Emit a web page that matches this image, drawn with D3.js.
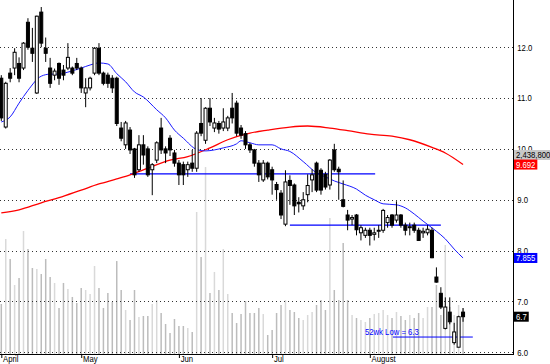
<!DOCTYPE html>
<html>
<head>
<meta charset="utf-8">
<script src="https://cdn.jsdelivr.net/npm/d3@7"></script>
<style>
  body { margin: 0; background: #fff; }
  svg { display: block; }
  text { font-family: "Liberation Sans", Arial, sans-serif; font-size: 9px; }
</style>
</head>
<body>
<script>
// daily bars, one entry per trading day (April .. end of August)
const opens = [11.39,10.43,11.49,11.59,11.68,11.59,12.49,11.98,11.10,12.69,11.98,11.59,11.45,11.68,11.55,11.59,11.59,11.68,11.59,11.10,
  11.20,11.49,11.98,11.49,11.45,11.39,11.39,10.41,10.08,10.37,10.00,9.59,10.08,10.00,9.59,9.78,10.41,10.00,10.21,9.92,
  9.72,9.69,9.59,9.72,9.62,10.50,10.17,10.80,10.41,10.50,10.41,10.41,10.80,10.90,10.41,10.30,10.08,9.98,9.72,9.39,
  9.72,9.59,9.30,9.13,8.52,9.38,9.29,8.95,8.88,9.10,9.39,9.72,9.58,9.50,9.29,9.98,9.60,9.00,8.70,8.62,
  8.70,8.35,8.30,8.40,8.32,8.38,8.40,8.55,8.70,8.60,8.70,8.50,8.45,8.50,8.40,8.35,8.35,8.40,7.48,7.16,
  6.47,6.79,6.19,6.10,6.79];
const highs = [11.45,11.32,11.59,11.98,11.80,12.10,12.57,12.38,12.62,12.79,12.19,11.79,11.58,11.70,11.65,12.08,11.62,11.79,11.62,11.39,
  11.42,12.00,12.08,11.52,11.50,11.45,11.42,10.53,10.55,10.43,10.02,10.27,10.27,10.05,9.72,10.15,10.61,10.05,10.27,9.98,
  9.78,9.75,9.75,9.98,10.35,11.00,10.82,11.00,10.61,10.55,10.80,10.65,11.10,10.95,10.47,10.35,10.12,10.00,9.78,9.78,
  9.75,9.65,9.35,9.19,9.58,9.48,9.32,9.05,9.15,9.50,9.60,9.75,9.62,9.55,9.80,10.10,9.65,9.38,8.80,8.70,
  8.72,8.50,8.45,8.45,8.45,8.50,8.82,8.70,8.72,8.97,8.72,8.55,8.55,8.55,8.45,8.45,8.50,8.45,7.67,7.28,
  7.08,7.08,6.58,6.72,6.87];
const lows = [10.55,10.40,11.31,11.45,11.31,11.55,11.95,11.71,11.08,12.00,11.71,11.20,11.35,11.26,11.35,11.55,11.45,11.55,11.10,10.82,
  11.15,11.45,11.45,11.25,11.20,11.10,10.45,10.15,10.00,9.90,9.43,9.55,9.69,9.45,9.09,9.72,9.90,9.72,9.86,9.65,
  9.29,9.29,9.45,9.55,9.55,10.25,10.10,10.45,10.33,10.30,10.35,10.35,10.50,10.25,10.20,10.00,9.92,9.65,9.35,9.35,
  9.40,9.10,9.00,8.62,8.48,8.90,8.70,8.75,8.80,8.95,9.15,9.15,9.10,9.20,9.20,9.55,9.00,8.85,8.40,8.50,
  8.30,8.20,8.25,8.10,8.20,8.25,8.35,8.45,8.45,8.55,8.45,8.30,8.30,8.35,8.20,8.25,8.30,7.85,7.37,6.85,
  6.45,6.55,6.15,6.10,6.60];
const closes = [10.61,11.29,11.39,11.90,11.39,12.08,12.00,11.88,12.61,12.08,11.88,11.29,11.53,11.39,11.45,11.80,11.49,11.59,11.20,11.20,
  11.39,11.98,11.49,11.29,11.29,11.20,10.50,10.21,10.51,9.98,9.49,10.08,9.88,9.49,9.69,10.12,9.98,9.92,9.98,9.72,
  9.49,9.49,9.69,9.62,10.31,10.31,10.80,10.53,10.51,10.39,10.53,10.61,10.61,10.31,10.27,10.08,9.98,9.72,9.49,9.72,
  9.45,9.39,9.20,8.70,9.35,9.28,8.88,8.92,9.00,9.28,9.49,9.19,9.19,9.25,9.78,9.59,9.55,8.87,8.60,8.65,
  8.41,8.45,8.40,8.30,8.35,8.40,8.79,8.65,8.50,8.70,8.50,8.40,8.47,8.40,8.20,8.38,8.42,7.86,7.38,6.89,
  6.89,6.60,6.40,6.70,6.70];
const volumes = [597000,1400000,1153000,832000,918000,1499000,1277000,1042000,1030000,968000,1153000,931000,857000,548000,857000,782000,684000,609000,795000,770000,
  721000,1067000,795000,548000,733000,622000,1128000,770000,523000,399000,770000,436000,449000,449000,597000,646000,486000,350000,239000,412000,
  325000,325000,300000,251000,1734000,1178000,2290000,733000,993000,770000,1277000,721000,486000,362000,473000,634000,486000,486000,548000,473000,
  214000,276000,486000,585000,646000,523000,498000,424000,399000,461000,498000,585000,646000,523000,1660000,770000,646000,1351000,646000,461000,
  424000,399000,375000,424000,473000,486000,523000,461000,424000,498000,449000,399000,461000,424000,486000,424000,560000,560000,832000,461000,
  1326000,560000,461000,585000,548000];
const volScaleMax = 2438800;

// moving averages at these days
const maShortDays = [0,2,4,6,9,11,13,15,18,20,22,24,26,28,30,32,35,37,39,41,44,46,48,50,53,54,56,58,61,63,65,68,71,73,75,77,80,82,84,86,89,91,93,95,98,100,102,104];
const maShortVals = [10.53,10.63,10.90,11.15,11.43,11.47,11.47,11.51,11.59,11.65,11.69,11.67,11.48,11.32,11.12,11.02,10.77,10.61,10.37,10.21,9.99,9.96,9.98,10.02,10.10,10.16,10.12,10.08,10.08,10.00,9.95,9.75,9.53,9.45,9.37,9.31,9.21,9.09,9.00,8.92,8.90,8.84,8.72,8.58,8.38,8.23,8.03,7.855];
const maLongDays = [0,4,9,13,18,22,26,29,33,38,42,47,51,56,60,65,69,74,78,83,88,92,97,100,104];
const maLongVals = [8.74,8.80,8.94,9.04,9.19,9.31,9.41,9.49,9.62,9.78,9.85,10.02,10.18,10.31,10.37,10.43,10.45,10.41,10.36,10.29,10.25,10.18,10.03,9.92,9.692];

// horizontal trend lines (price level, first day, last day)
const levelValues = [9.51, 8.50];
const levelStart = [29, 65];
const levelEnd = [84.2, 99];
const lowValue = 6.3;
const lowStart = 88.2;
const lowEnd = 106.2;

const priceTicks = [6, 7, 8, 9, 10, 11, 12];
const monthTicks = [0, 18, 40, 61, 83];
const monthLabels = ["April", "May", "Jun", "Jul", "August"];

const width = 550, height = 364;
const plotRight = 513, axisY = 354;
const SX = 0.86; // squeeze text to look like the narrow chart font
const N = closes.length;

const x = d3.scaleLinear().domain([0, N - 1]).range([1.3, 1.3 + 4.44 * (N - 1)]);
const y = d3.scaleLinear().domain([6, 12]).range([352.3, 47.2]);
const yVol = d3.scaleLinear().domain([0, volScaleMax]).range([352.3, 155]);

const svg = d3.select("body").append("svg")
    .attr("width", width)
    .attr("height", height);

svg.append("clipPath").attr("id", "plot")
    .append("rect")
    .attr("x", 0).attr("y", 0)
    .attr("width", plotRight).attr("height", axisY);

const plot = svg.append("g").attr("clip-path", "url(#plot)");

// volume
plot.selectAll("line.vol")
    .data(volumes)
    .enter()
    .append("line")
    .attr("class", "vol")
    .attr("x1", (d, i) => x(i))
    .attr("x2", (d, i) => x(i))
    .attr("y1", axisY)
    .attr("y2", d => yVol(d))
    .attr("stroke", (d, i) => closes[i] >= opens[i] ? "#d9d9d9" : "#bcbcbc")
    .attr("stroke-width", 1.5);

// dotted grid
plot.selectAll("line.grid")
    .data(priceTicks)
    .enter()
    .append("line")
    .attr("class", "grid")
    .attr("x1", 0)
    .attr("x2", plotRight)
    .attr("y1", d => Math.round(y(d)) + 0.5)
    .attr("y2", d => Math.round(y(d)) + 0.5)
    .attr("stroke", "#333")
    .attr("stroke-dasharray", "1,3");

// trend lines
plot.selectAll("line.level")
    .data(levelValues)
    .enter()
    .append("line")
    .attr("class", "level")
    .attr("x1", (d, i) => x(levelStart[i]))
    .attr("x2", (d, i) => x(levelEnd[i]))
    .attr("y1", d => y(d))
    .attr("y2", d => y(d))
    .attr("stroke", "#0000ff")
    .attr("stroke-width", 1.2);

plot.append("line")
    .attr("x1", x(lowStart))
    .attr("x2", x(lowEnd))
    .attr("y1", y(lowValue))
    .attr("y2", y(lowValue))
    .attr("stroke", "#0000ff")
    .attr("stroke-width", 1);

plot.append("text")
    .attr("transform", `translate(${x(lowStart) - 28},${y(lowValue) - 2}) scale(${SX},1)`)
    .attr("fill", "#0000ff")
    .text(`52wk Low = ${lowValue}`);

// moving averages
const maLine = d3.line()
    .x(d => x(d[0]))
    .y(d => y(d[1]))
    .curve(d3.curveMonotoneX);

plot.append("path")
    .attr("d", maLine(d3.zip(maLongDays, maLongVals)))
    .attr("fill", "none")
    .attr("stroke", "#ff0000")
    .attr("stroke-width", 1.3);

plot.append("path")
    .attr("d", maLine(d3.zip(maShortDays, maShortVals)))
    .attr("fill", "none")
    .attr("stroke", "#1a1aff")
    .attr("stroke-width", 1);

// candles
const bodyW = 3;
const candles = plot.selectAll("g.candle")
    .data(d3.range(N))
    .enter()
    .append("g")
    .attr("class", "candle");

candles.append("line")
    .attr("x1", i => x(i))
    .attr("x2", i => x(i))
    .attr("y1", i => y(highs[i]))
    .attr("y2", i => y(lows[i]))
    .attr("stroke", "#000");

candles.append("rect")
    .attr("x", i => x(i) - bodyW / 2)
    .attr("y", i => y(Math.max(opens[i], closes[i])))
    .attr("width", bodyW)
    .attr("height", i => Math.max(1, Math.abs(y(opens[i]) - y(closes[i]))))
    .attr("fill", i => closes[i] >= opens[i] ? "#fff" : "#000")
    .attr("stroke", "#000");

// axes
svg.append("line")
    .attr("x1", plotRight + 0.5).attr("x2", plotRight + 0.5)
    .attr("y1", 0).attr("y2", axisY + 1)
    .attr("stroke", "#000");
svg.append("line")
    .attr("x1", 0).attr("x2", plotRight + 1)
    .attr("y1", axisY + 0.5).attr("y2", axisY + 0.5)
    .attr("stroke", "#000");

const yAxis = d3.axisRight(y)
    .tickValues(priceTicks)
    .tickFormat(d3.format(".1f"))
    .tickSize(0)
    .tickPadding(5);
const ya = svg.append("g")
    .attr("transform", `translate(${plotRight},0)`)
    .call(yAxis);
ya.select(".domain").remove();
ya.selectAll("text").attr("transform", `scale(${SX},1)`).attr("fill", "#000");

const xAxis = d3.axisBottom(x)
    .tickValues(monthTicks)
    .tickFormat((d, i) => monthLabels[i])
    .tickSize(4);
const xa = svg.append("g")
    .attr("transform", `translate(0,${axisY})`)
    .call(xAxis);
xa.select(".domain").remove();
xa.selectAll("text")
    .attr("text-anchor", "start")
    .attr("x", 1.5)
    .attr("y", 7.5)
    .attr("dy", 0)
    .attr("transform", `scale(${SX},1)`)
    .attr("fill", "#000");

// value tags on the right
function tag(yPos, str, fill, color) {
    const g = svg.append("g").attr("transform", `translate(${plotRight + 1},${yPos})`);
    const r = g.append("rect").attr("y", -5).attr("height", 10).attr("fill", fill);
    const t = g.append("text")
        .attr("transform", `translate(2,3.3) scale(${SX},1)`)
        .attr("fill", color)
        .text(str);
    r.attr("width", t.node().getComputedTextLength() * SX + 4);
}

tag(yVol(volScaleMax), d3.format(",")(volScaleMax), "#c8c8c8", "#000");
tag(y(maLongVals[maLongVals.length - 1]), d3.format(".3f")(maLongVals[maLongVals.length - 1]), "#ff0000", "#fff");
tag(y(maShortVals[maShortVals.length - 1]), d3.format(".3f")(maShortVals[maShortVals.length - 1]), "#0000ff", "#fff");
tag(y(closes[N - 1]), d3.format(".1f")(closes[N - 1]), "#000", "#fff");
</script>
</body>
</html>
